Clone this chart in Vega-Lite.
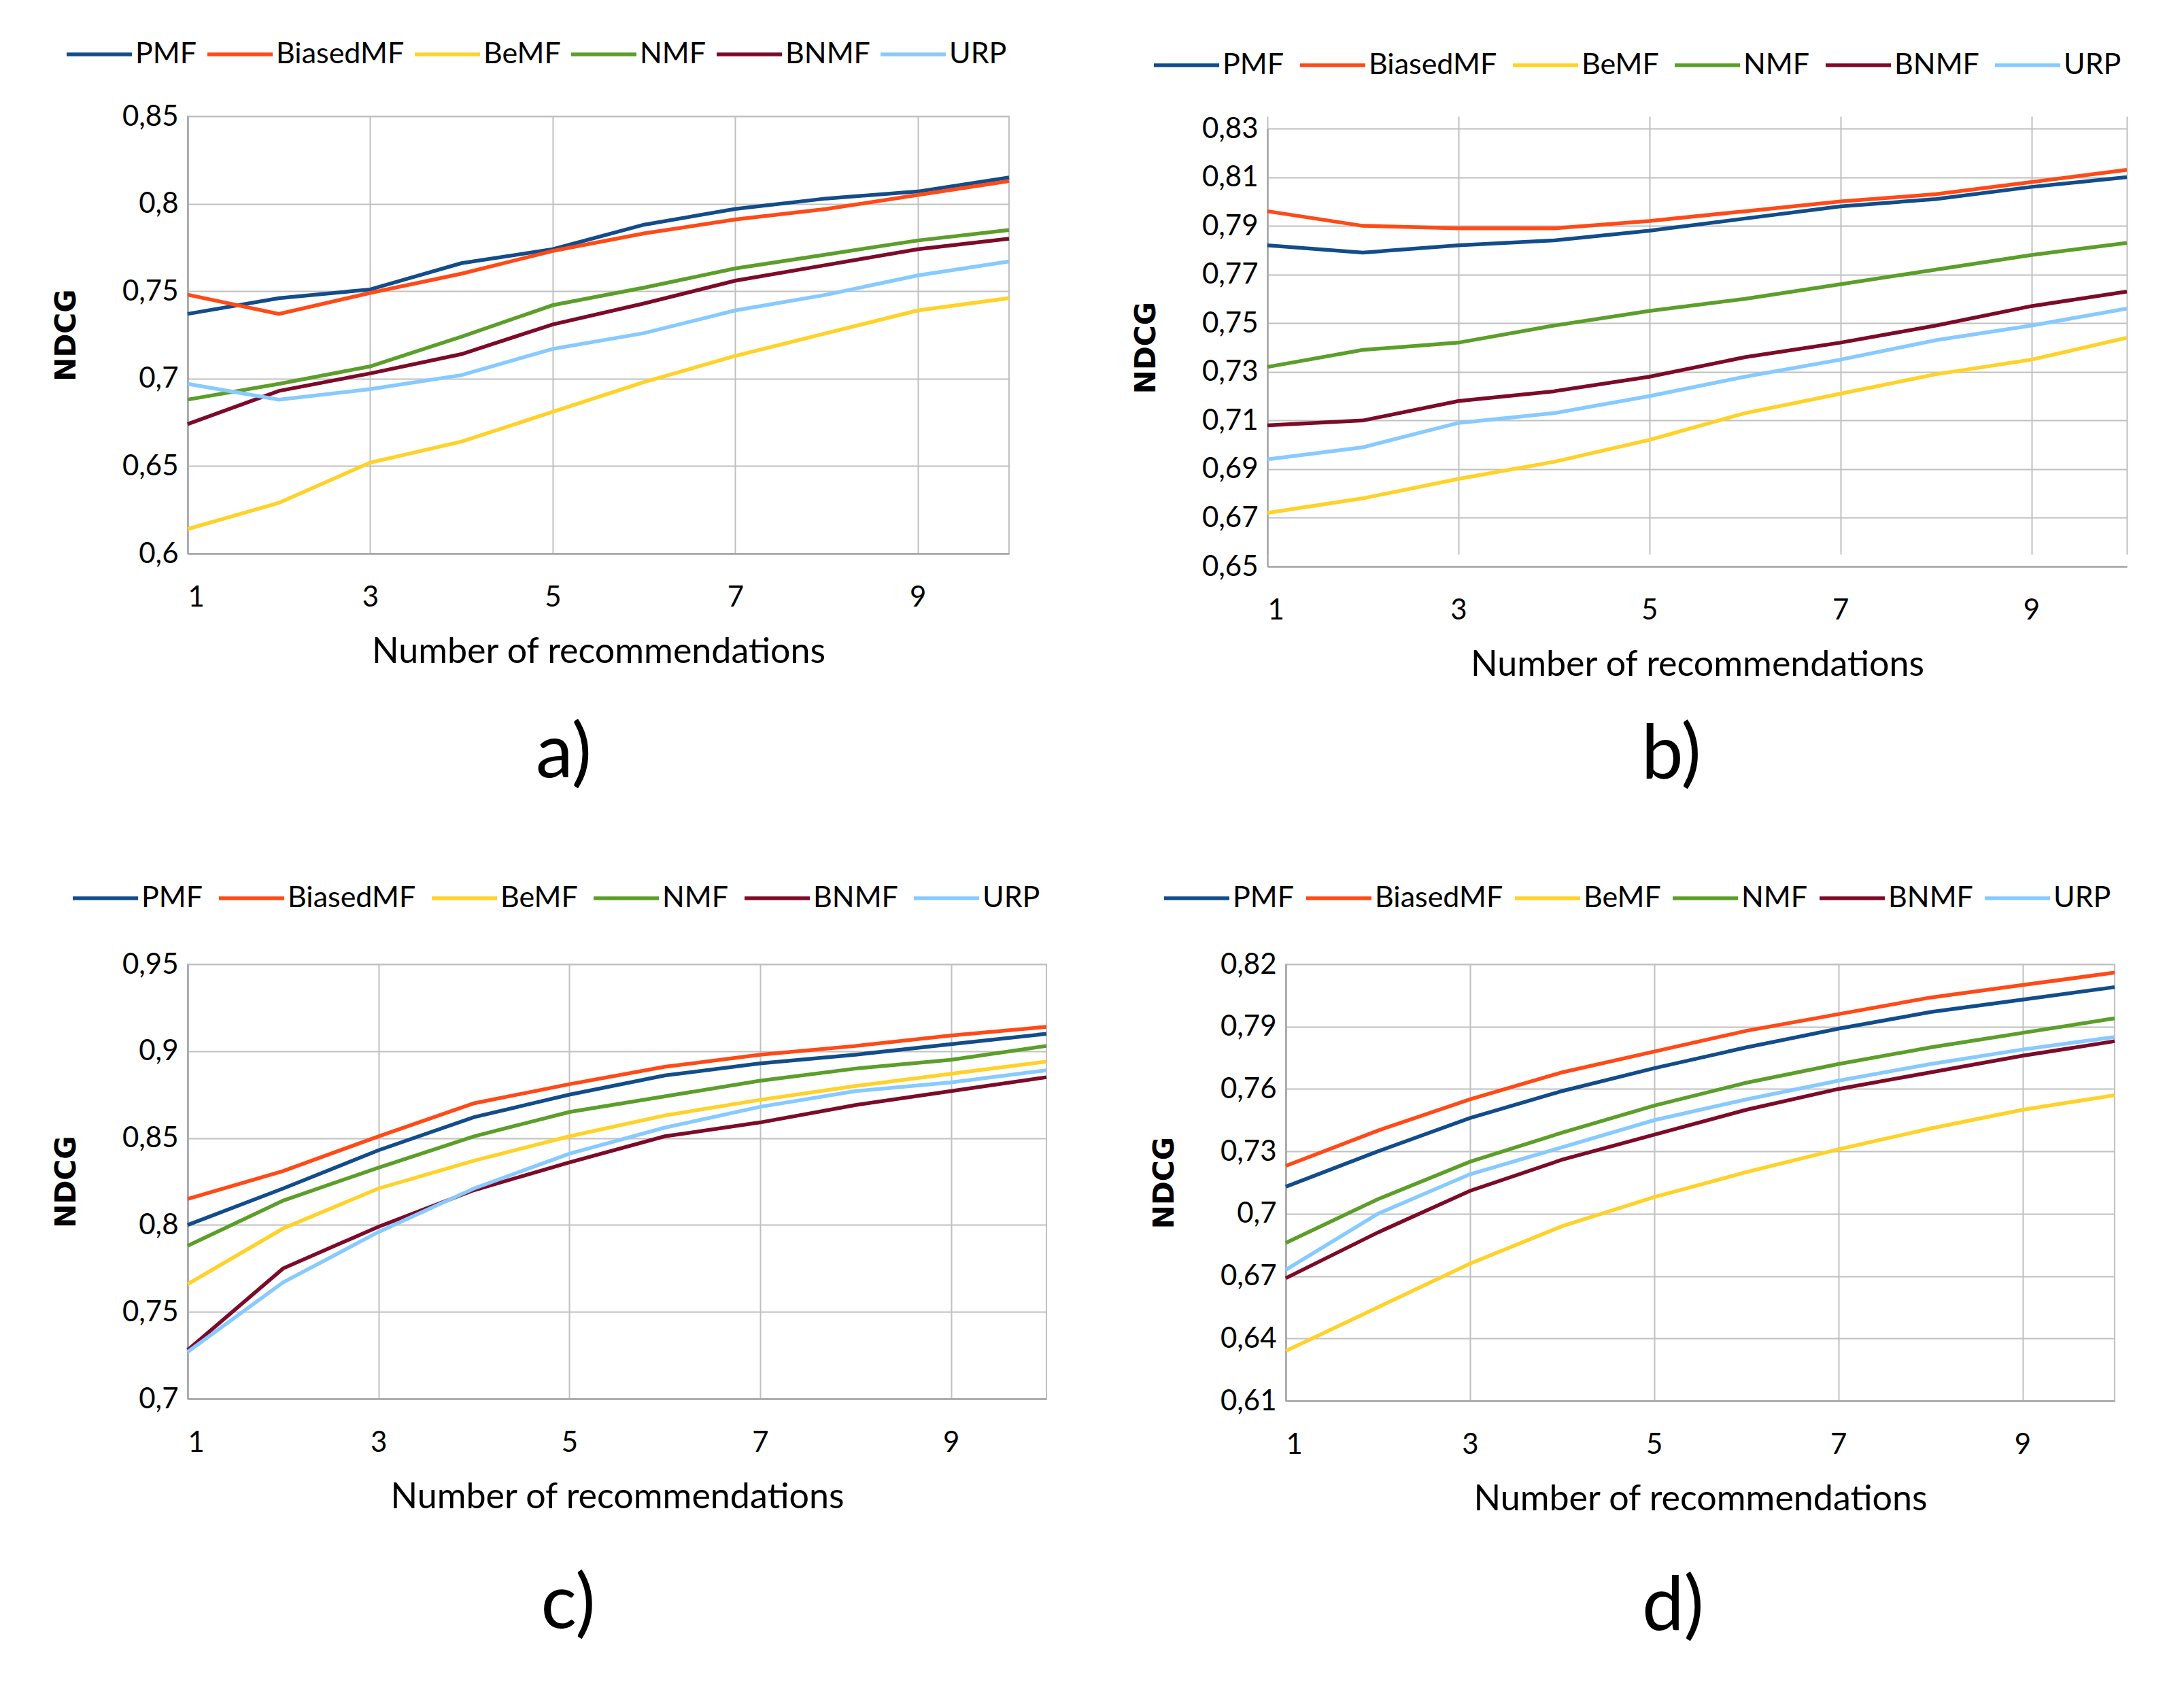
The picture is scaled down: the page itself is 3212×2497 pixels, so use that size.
{
  "$schema": "https://vega.github.io/schema/vega-lite/v6.json",
  "background": "white",
  "padding": {"left": 75, "top": 28, "right": 0, "bottom": 0},
  "config": {
    "font": "Lato",
    "view": {"stroke": "#c0c0c0", "strokeWidth": 2},
    "axis": {"grid": true, "gridColor": "#c0c0c0", "gridWidth": 2, "domainColor": "#a6a6a6", "domainWidth": 2.5, "ticks": false, "labelFont": "Lato", "labelFontSize": 42, "labelColor": "black", "titleColor": "black"},
    "axisX": {"labelPadding": 44, "titleFont": "Lato", "titleFontSize": 52, "titleFontWeight": "normal", "titlePadding": 34},
    "axisY": {"labelPadding": 14, "titleFont": "DejaVu Sans", "titleFontSize": 42, "titleFontWeight": "bold", "titlePadding": 60},
    "legend": {"orient": "none", "direction": "horizontal", "title": null, "symbolType": "stroke", "symbolSize": 9216, "symbolStrokeWidth": 5.5, "labelFont": "Lato", "labelFontSize": 43, "labelColor": "black", "labelOffset": 2, "columnPadding": 4, "labelLimit": 0},
    "title": {"fontSize": 110, "fontWeight": "normal", "font": "Lato", "color": "black", "orient": "bottom", "offset": 80, "anchor": "middle"},
    "line": {"strokeWidth": 5.5}
  },
  "datasets": {
    "a": [
      {"n": 1, "PMF": 0.737, "BiasedMF": 0.748, "BeMF": 0.614, "NMF": 0.688, "BNMF": 0.674, "URP": 0.697},
      {"n": 2, "PMF": 0.746, "BiasedMF": 0.737, "BeMF": 0.629, "NMF": 0.697, "BNMF": 0.693, "URP": 0.688},
      {"n": 3, "PMF": 0.751, "BiasedMF": 0.749, "BeMF": 0.652, "NMF": 0.707, "BNMF": 0.703, "URP": 0.694},
      {"n": 4, "PMF": 0.766, "BiasedMF": 0.760, "BeMF": 0.664, "NMF": 0.724, "BNMF": 0.714, "URP": 0.702},
      {"n": 5, "PMF": 0.774, "BiasedMF": 0.773, "BeMF": 0.681, "NMF": 0.742, "BNMF": 0.731, "URP": 0.717},
      {"n": 6, "PMF": 0.788, "BiasedMF": 0.783, "BeMF": 0.698, "NMF": 0.752, "BNMF": 0.743, "URP": 0.726},
      {"n": 7, "PMF": 0.797, "BiasedMF": 0.791, "BeMF": 0.713, "NMF": 0.763, "BNMF": 0.756, "URP": 0.739},
      {"n": 8, "PMF": 0.803, "BiasedMF": 0.797, "BeMF": 0.726, "NMF": 0.771, "BNMF": 0.765, "URP": 0.748},
      {"n": 9, "PMF": 0.807, "BiasedMF": 0.805, "BeMF": 0.739, "NMF": 0.779, "BNMF": 0.774, "URP": 0.759},
      {"n": 10, "PMF": 0.815, "BiasedMF": 0.813, "BeMF": 0.746, "NMF": 0.785, "BNMF": 0.780, "URP": 0.767}
    ],
    "b": [
      {"n": 1, "PMF": 0.782, "BiasedMF": 0.796, "BeMF": 0.672, "NMF": 0.732, "BNMF": 0.708, "URP": 0.694},
      {"n": 2, "PMF": 0.779, "BiasedMF": 0.790, "BeMF": 0.678, "NMF": 0.739, "BNMF": 0.710, "URP": 0.699},
      {"n": 3, "PMF": 0.782, "BiasedMF": 0.789, "BeMF": 0.686, "NMF": 0.742, "BNMF": 0.718, "URP": 0.709},
      {"n": 4, "PMF": 0.784, "BiasedMF": 0.789, "BeMF": 0.693, "NMF": 0.749, "BNMF": 0.722, "URP": 0.713},
      {"n": 5, "PMF": 0.788, "BiasedMF": 0.792, "BeMF": 0.702, "NMF": 0.755, "BNMF": 0.728, "URP": 0.720},
      {"n": 6, "PMF": 0.793, "BiasedMF": 0.796, "BeMF": 0.713, "NMF": 0.760, "BNMF": 0.736, "URP": 0.728},
      {"n": 7, "PMF": 0.798, "BiasedMF": 0.800, "BeMF": 0.721, "NMF": 0.766, "BNMF": 0.742, "URP": 0.735},
      {"n": 8, "PMF": 0.801, "BiasedMF": 0.803, "BeMF": 0.729, "NMF": 0.772, "BNMF": 0.749, "URP": 0.743},
      {"n": 9, "PMF": 0.806, "BiasedMF": 0.808, "BeMF": 0.735, "NMF": 0.778, "BNMF": 0.757, "URP": 0.749},
      {"n": 10, "PMF": 0.810, "BiasedMF": 0.813, "BeMF": 0.744, "NMF": 0.783, "BNMF": 0.763, "URP": 0.756}
    ],
    "c": [
      {"n": 1, "PMF": 0.800, "BiasedMF": 0.815, "BeMF": 0.766, "NMF": 0.788, "BNMF": 0.728, "URP": 0.727},
      {"n": 2, "PMF": 0.821, "BiasedMF": 0.831, "BeMF": 0.798, "NMF": 0.814, "BNMF": 0.775, "URP": 0.767},
      {"n": 3, "PMF": 0.843, "BiasedMF": 0.851, "BeMF": 0.821, "NMF": 0.833, "BNMF": 0.799, "URP": 0.796},
      {"n": 4, "PMF": 0.862, "BiasedMF": 0.870, "BeMF": 0.837, "NMF": 0.851, "BNMF": 0.820, "URP": 0.821},
      {"n": 5, "PMF": 0.875, "BiasedMF": 0.881, "BeMF": 0.851, "NMF": 0.865, "BNMF": 0.836, "URP": 0.841},
      {"n": 6, "PMF": 0.886, "BiasedMF": 0.891, "BeMF": 0.863, "NMF": 0.874, "BNMF": 0.851, "URP": 0.856},
      {"n": 7, "PMF": 0.893, "BiasedMF": 0.898, "BeMF": 0.872, "NMF": 0.883, "BNMF": 0.859, "URP": 0.868},
      {"n": 8, "PMF": 0.898, "BiasedMF": 0.903, "BeMF": 0.880, "NMF": 0.890, "BNMF": 0.869, "URP": 0.877},
      {"n": 9, "PMF": 0.904, "BiasedMF": 0.909, "BeMF": 0.887, "NMF": 0.895, "BNMF": 0.877, "URP": 0.882},
      {"n": 10, "PMF": 0.910, "BiasedMF": 0.914, "BeMF": 0.894, "NMF": 0.903, "BNMF": 0.885, "URP": 0.889}
    ],
    "d": [
      {"n": 1, "PMF": 0.713, "BiasedMF": 0.723, "BeMF": 0.634, "NMF": 0.686, "BNMF": 0.669, "URP": 0.673},
      {"n": 2, "PMF": 0.730, "BiasedMF": 0.740, "BeMF": 0.655, "NMF": 0.707, "BNMF": 0.691, "URP": 0.700},
      {"n": 3, "PMF": 0.746, "BiasedMF": 0.755, "BeMF": 0.676, "NMF": 0.725, "BNMF": 0.711, "URP": 0.719},
      {"n": 4, "PMF": 0.759, "BiasedMF": 0.768, "BeMF": 0.694, "NMF": 0.739, "BNMF": 0.726, "URP": 0.732},
      {"n": 5, "PMF": 0.770, "BiasedMF": 0.778, "BeMF": 0.708, "NMF": 0.752, "BNMF": 0.738, "URP": 0.745},
      {"n": 6, "PMF": 0.780, "BiasedMF": 0.788, "BeMF": 0.720, "NMF": 0.763, "BNMF": 0.750, "URP": 0.755},
      {"n": 7, "PMF": 0.789, "BiasedMF": 0.796, "BeMF": 0.731, "NMF": 0.772, "BNMF": 0.760, "URP": 0.764},
      {"n": 8, "PMF": 0.797, "BiasedMF": 0.804, "BeMF": 0.741, "NMF": 0.780, "BNMF": 0.768, "URP": 0.772},
      {"n": 9, "PMF": 0.803, "BiasedMF": 0.810, "BeMF": 0.750, "NMF": 0.787, "BNMF": 0.776, "URP": 0.779},
      {"n": 10, "PMF": 0.809, "BiasedMF": 0.816, "BeMF": 0.757, "NMF": 0.794, "BNMF": 0.783, "URP": 0.785}
    ]
  },
  "resolve": {"legend": {"color": "independent"}},
  "spacing": 103,
  "vconcat": [
    {
      "resolve": {"legend": {"color": "independent"}},
      "spacing": 168,
      "hconcat": [
        {
          "width": 1208, "height": 643,
          "data": {"name": "a"},
          "transform": [{"fold": ["PMF", "BiasedMF", "BeMF", "NMF", "BNMF", "URP"], "as": ["method", "ndcg"]}],
          "title": {"text": "a)", "dx": -51, "offset": 72},
          "mark": {"type": "line", "strokeWidth": 5.5},
          "encoding": {
            "x": {"field": "n", "type": "quantitative", "scale": {"domain": [1, 10], "nice": false, "zero": false}, "axis": {"values": [1, 3, 5, 7, 9], "title": "Number of recommendations"}},
            "y": {"field": "ndcg", "type": "quantitative", "scale": {"domain": [0.6, 0.85], "nice": false, "zero": false}, "axis": {"values": [0.6, 0.65, 0.7, 0.75, 0.8, 0.85], "title": "NDCG", "labelExpr": "replace(format(datum.value, '.2~f'), '.', ',')"}},
            "color": {"field": "method", "type": "nominal", "scale": {"domain": ["PMF", "BiasedMF", "BeMF", "NMF", "BNMF", "URP"], "range": ["#124c8a", "#ff4a17", "#ffd22a", "#5c9e2a", "#7c0a28", "#87caff"]}, "legend": {"legendX": -181, "legendY": -142}}
          }
        },
        {
          "width": 1264, "height": 662,
          "view": {"stroke": null},
          "data": {"name": "b"},
          "transform": [{"fold": ["PMF", "BiasedMF", "BeMF", "NMF", "BNMF", "URP"], "as": ["method", "ndcg"]}],
          "title": {"text": "b)", "dx": -38, "offset": 54},
          "mark": {"type": "line", "strokeWidth": 5.5},
          "encoding": {
            "x": {"field": "n", "type": "quantitative", "scale": {"domain": [1, 10], "nice": false, "zero": false}, "axis": {"values": [1, 3, 5, 7, 9, 10], "title": "Number of recommendations", "labelExpr": "datum.value == 10 ? '' : datum.label"}},
            "y": {"field": "ndcg", "type": "quantitative", "scale": {"domain": [0.65, 0.83], "nice": false, "zero": false, "range": [662, 18]}, "axis": {"values": [0.65, 0.67, 0.69, 0.71, 0.73, 0.75, 0.77, 0.79, 0.81, 0.83], "title": "NDCG", "labelExpr": "replace(format(datum.value, '.2~f'), '.', ',')"}},
            "color": {"field": "method", "type": "nominal", "scale": {"domain": ["PMF", "BiasedMF", "BeMF", "NMF", "BNMF", "URP"], "range": ["#124c8a", "#ff4a17", "#ffd22a", "#5c9e2a", "#7c0a28", "#87caff"]}, "legend": {"legendX": -170, "legendY": -126, "columnPadding": 12}}
          }
        }
      ]
    },
    {
      "resolve": {"legend": {"color": "independent"}},
      "spacing": 139,
      "hconcat": [
        {
          "width": 1263, "height": 639,
          "data": {"name": "c"},
          "transform": [{"fold": ["PMF", "BiasedMF", "BeMF", "NMF", "BNMF", "URP"], "as": ["method", "ndcg"]}],
          "title": {"text": "c)", "dx": -72},
          "mark": {"type": "line", "strokeWidth": 5.5},
          "encoding": {
            "x": {"field": "n", "type": "quantitative", "scale": {"domain": [1, 10], "nice": false, "zero": false}, "axis": {"values": [1, 3, 5, 7, 9], "title": "Number of recommendations"}},
            "y": {"field": "ndcg", "type": "quantitative", "scale": {"domain": [0.7, 0.95], "nice": false, "zero": false}, "axis": {"values": [0.7, 0.75, 0.8, 0.85, 0.9, 0.95], "title": "NDCG", "labelExpr": "replace(format(datum.value, '.2~f'), '.', ',')"}},
            "color": {"field": "method", "type": "nominal", "scale": {"domain": ["PMF", "BiasedMF", "BeMF", "NMF", "BNMF", "URP"], "range": ["#124c8a", "#ff4a17", "#ffd22a", "#5c9e2a", "#7c0a28", "#87caff"]}, "legend": {"legendX": -172, "legendY": -148, "columnPadding": 12}}
          }
        },
        {
          "width": 1219, "height": 642,
          "data": {"name": "d"},
          "transform": [{"fold": ["PMF", "BiasedMF", "BeMF", "NMF", "BNMF", "URP"], "as": ["method", "ndcg"]}],
          "title": {"text": "d)", "dx": -40},
          "mark": {"type": "line", "strokeWidth": 5.5},
          "encoding": {
            "x": {"field": "n", "type": "quantitative", "scale": {"domain": [1, 10], "nice": false, "zero": false}, "axis": {"values": [1, 3, 5, 7, 9], "title": "Number of recommendations"}},
            "y": {"field": "ndcg", "type": "quantitative", "scale": {"domain": [0.61, 0.82], "nice": false, "zero": false}, "axis": {"values": [0.61, 0.64, 0.67, 0.7, 0.73, 0.76, 0.79, 0.82], "title": "NDCG", "labelExpr": "replace(format(datum.value, '.2~f'), '.', ',')"}},
            "color": {"field": "method", "type": "nominal", "scale": {"domain": ["PMF", "BiasedMF", "BeMF", "NMF", "BNMF", "URP"], "range": ["#124c8a", "#ff4a17", "#ffd22a", "#5c9e2a", "#7c0a28", "#87caff"]}, "legend": {"legendX": -182, "legendY": -148, "columnPadding": 6}}
          }
        }
      ]
    }
  ]
}
